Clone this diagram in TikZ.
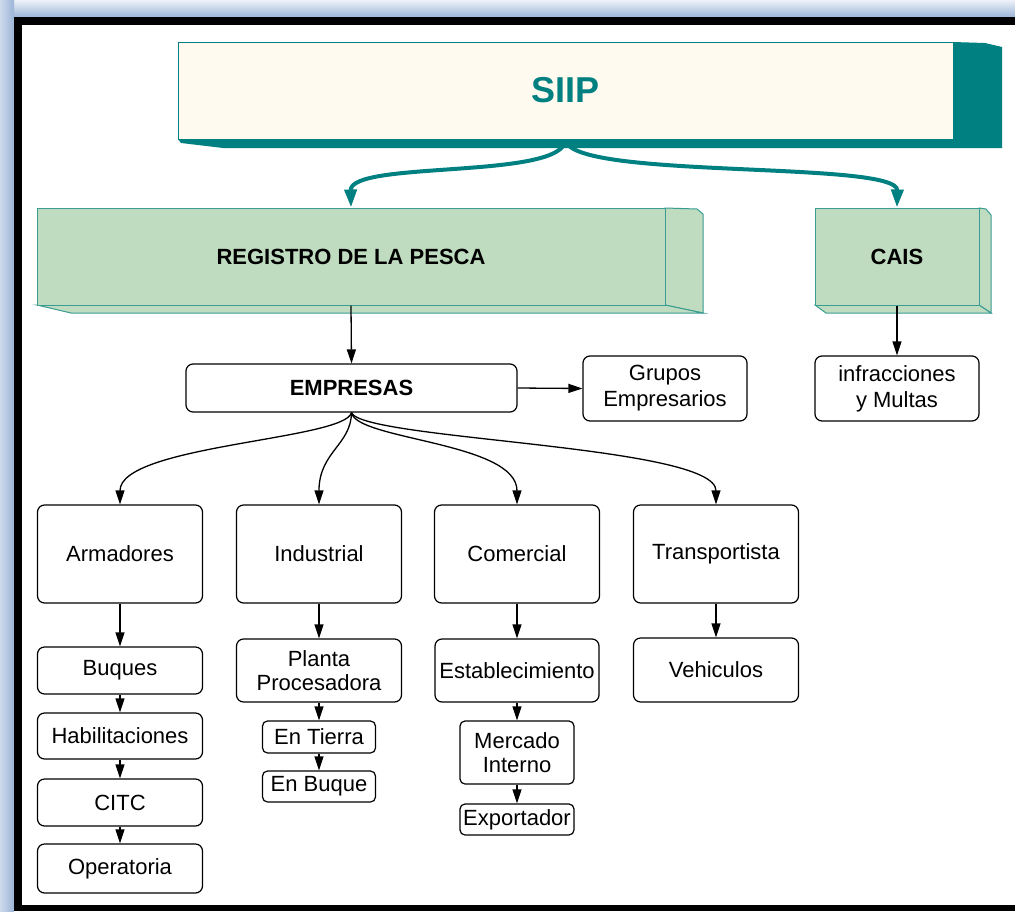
\documentclass[tikz,border=0pt]{standalone}
\usepackage{fontspec}
\setmainfont{Liberation Sans}
\usetikzlibrary{arrows.meta}
\definecolor{tealc}{HTML}{008080}
\definecolor{greenf}{HTML}{C0DCC0}
\definecolor{greenb}{HTML}{3A9D92}
\definecolor{cream}{HTML}{FFFAF0}
\definecolor{frameA}{HTML}{EEF2F8}
\definecolor{frameB}{HTML}{9CB5D8}
\tikzset{
  rbox/.style={draw=black, line width=1.2pt, rounded corners=7pt, fill=white, inner sep=0pt, align=center, font=\fontsize{22}{25}\selectfont},
  sbox/.style={rbox, rounded corners=5pt},
  gbox/.style={draw=greenb, line width=1pt, fill=greenf, inner sep=0pt, font=\fontsize{22}{24}\selectfont\bfseries},
  arr/.style={-{Triangle[length=14pt,width=9pt]}, line width=1.3pt, black},
  tarr/.style={-{Triangle[length=18pt,width=12pt]}, line width=4pt, tealc},
}
\begin{document}
\begin{tikzpicture}[x=1pt,y=-1pt]
\useasboundingbox (0,0) rectangle (1015,911);
\fill[white] (0,0) rectangle (1015,911);
% frame
\shade[top color=frameA, bottom color=frameB] (0,0) rectangle (1015,17);
\shade[left color=frameA!60!frameB, right color=frameB] (0,0) rectangle (14,911);
\fill[black] (14,17) rectangle (1015,25);
\fill[black] (14,17) rectangle (22,911);
\fill[black] (14,905) rectangle (1015,911);

% SIIP shadow and box
\fill[tealc] (178,139) -- (181,143) -- (223,148) -- (1002,148) -- (1002,47) -- (985,43) -- (953,42) -- cycle;
\node[draw=tealc, line width=1pt, fill=cream, minimum width=775pt, minimum height=97pt, inner sep=0pt,
      font=\fontsize{36}{40}\selectfont\bfseries, text=tealc] (siip) at (565.5,90.5) {SIIP};

% REGISTRO 3D faces
\filldraw[fill=greenf, draw=greenb, line width=1pt] (665,208) -- (697,209) -- (703,214) -- (703,313) -- (665,305) -- cycle;
\filldraw[fill=greenf, draw=greenb, line width=1pt] (37,305) -- (665,305) -- (703,313) -- (71,313) -- cycle;
\node[gbox, minimum width=628pt, minimum height=97pt] (reg) at (351,256.5) {REGISTRO DE LA PESCA};
% CAIS 3D faces
\filldraw[fill=greenf, draw=greenb, line width=1pt] (979,208) -- (986,209) -- (991,215) -- (991,313) -- (979,305) -- cycle;
\filldraw[fill=greenf, draw=greenb, line width=1pt] (815,305) -- (979,305) -- (991,313) -- (826,313) -- cycle;
\node[gbox, minimum width=164pt, minimum height=97pt] (cais) at (897,256.5) {CAIS};

% teal connectors
\draw[tarr] (siip.south) .. controls (564,180) and (350,160) .. (reg.north);
\draw[tarr] (siip.south) .. controls (568,180) and (898,160) .. (cais.north);

% level 2
\node[rbox, minimum width=331pt, minimum height=48pt, font=\fontsize{22}{25}\selectfont\bfseries] (emp) at (351.5,388) {EMPRESAS};
\node[rbox, minimum width=164pt, minimum height=65pt, font=\fontsize{22}{26}\selectfont] (grp) at (665,388.5) {Grupos\\Empresarios};
\node[rbox, minimum width=164pt, minimum height=65pt, font=\fontsize{22}{26}\selectfont] (inf) at (897,388.5) {infracciones\\y Multas};

% level 3
\node[rbox, minimum width=165pt, minimum height=98pt] (arm) at (120,554) {Armadores};
\node[rbox, minimum width=165pt, minimum height=98pt] (ind) at (319,554) {Industrial};
\node[rbox, minimum width=165pt, minimum height=98pt] (com) at (517,554) {Comercial};
\node[rbox, minimum width=165pt, minimum height=98pt] (tra) at (716,554) {Transportista};

% level 4
\node[rbox, minimum width=165pt, minimum height=47pt] (buq) at (120,670.5) {Buques};
\node[rbox, minimum width=165pt, minimum height=46pt] (hab) at (120,736) {Habilitaciones};
\node[rbox, minimum width=165pt, minimum height=47pt] (citc) at (120,802.5) {CITC};
\node[rbox, minimum width=165pt, minimum height=49pt] (ope) at (120,868.5) {Operatoria};

\node[rbox, minimum width=165pt, minimum height=63pt, font=\fontsize{22}{24}\selectfont] (pla) at (319,670.5) {Planta\\Procesadora};
\node[sbox, minimum width=113pt, minimum height=32pt] (tie) at (319,737) {En Tierra};
\node[sbox, minimum width=113pt, minimum height=31pt] (ebq) at (319,786.5) {En Buque};

\node[rbox, minimum width=164pt, minimum height=63pt] (est) at (517,670.5) {Establecimiento};
\node[sbox, minimum width=114pt, minimum height=63pt, font=\fontsize{22}{24}\selectfont] (mer) at (517,752.5) {Mercado\\Interno};
\node[sbox, minimum width=114pt, minimum height=31pt] (exp) at (517,819.5) {Exportador};

\node[rbox, minimum width=165pt, minimum height=64pt] (veh) at (716,670) {Vehiculos};

% black connectors
\draw[arr] (reg.south) -- (emp.north);
\draw[arr] (cais.south) -- (inf.north);
\draw[arr] (emp.east) -- (grp.west);
\draw[arr] (emp.south) .. controls (345,440) and (120,445) .. (arm.north);
\draw[arr] (emp.south) .. controls (351,445) and (319,452) .. (ind.north);
\draw[arr] (emp.south) .. controls (356,440) and (517,442) .. (com.north);
\draw[arr] (emp.south) .. controls (362,440) and (716,445) .. (tra.north);

\draw[arr] (arm.south) -- (buq.north);
\draw[arr] (buq.south) -- (hab.north);
\draw[arr] (hab.south) -- (citc.north);
\draw[arr] (citc.south) -- (ope.north);
\draw[arr] (ind.south) -- (pla.north);
\draw[arr] (pla.south) -- (tie.north);
\draw[arr] (tie.south) -- (ebq.north);
\draw[arr] (com.south) -- (est.north);
\draw[arr] (est.south) -- (mer.north);
\draw[arr] (mer.south) -- (exp.north);
\draw[arr] (tra.south) -- (veh.north);
\end{tikzpicture}
\end{document}
